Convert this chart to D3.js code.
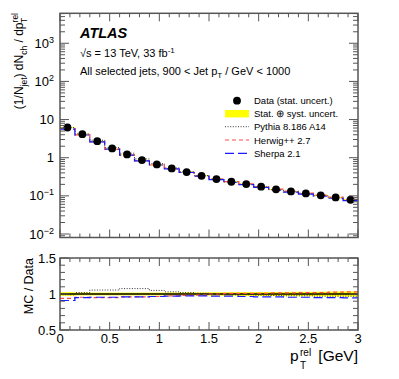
<!DOCTYPE html>
<html>
<head>
<meta charset="utf-8">
<script src="https://cdn.jsdelivr.net/npm/d3@7"></script>
<style>
  body { margin: 0; background: #fff; }
  svg text { font-family: "Liberation Sans", Arial, Helvetica, sans-serif; }
</style>
</head>
<body>
<svg id="chart"></svg>
<script>
const width = 399;
const height = 379;

// bin edges of p_T^rel [GeV]
const binEdges = [0, 0.15, 0.3, 0.45, 0.6, 0.75, 0.9, 1.05, 1.2, 1.35, 1.5,
                  1.65, 1.8, 1.95, 2.1, 2.25, 2.4, 2.55, 2.7, 2.85, 3.0];
const dataVals = [6.2, 4.15, 2.72, 1.75, 1.22, 0.865, 0.668, 0.525, 0.42, 0.336,
                  0.275, 0.234, 0.204, 0.174, 0.148, 0.131, 0.116, 0.103, 0.091, 0.079];
// relative stat+syst uncertainty
const uncRel = [0.025, 0.02, 0.02, 0.02, 0.02, 0.02, 0.02, 0.02, 0.022, 0.022,
                0.024, 0.025, 0.026, 0.027, 0.028, 0.03, 0.031, 0.032, 0.034, 0.036];
// MC / Data
const pythiaRatio = [0.99, 1.02, 1.055, 1.055, 1.075, 1.075, 1.05, 1.03, 1.02, 1.01,
                     1.0, 0.99, 0.99, 0.985, 0.98, 0.975, 0.975, 0.97, 0.97, 0.97];
const herwigRatio = [0.94, 0.955, 0.95, 0.95, 0.96, 0.96, 0.965, 0.975, 0.98, 0.985,
                     1.0, 1.01, 1.01, 1.01, 1.015, 1.015, 1.02, 1.02, 1.025, 1.03];
const sherpaRatio = [0.91, 0.95, 0.955, 0.955, 0.96, 0.96, 0.965, 0.97, 0.975, 0.975,
                     0.97, 0.97, 0.965, 0.96, 0.96, 0.955, 0.955, 0.95, 0.95, 0.945];

const xTicks = [0, 0.5, 1, 1.5, 2, 2.5, 3];
const xTickLabels = ["0", "0.5", "1", "1.5", "2", "2.5", "3"];
const yTicks = [1e-2, 1e-1, 1, 10, 1e2, 1e3];
const yTickBase = ["10", "10", "1", "10", "10", "10"];
const yTickExp = ["\u22122", "\u22121", "", "", "2", "3"];
const rTicks = [0.5, 1, 1.5];
const rTickLabels = ["0.5", "1", "1.5"];

const svg = d3.select('#chart').attr('width', width).attr('height', height);

const left = 60, right = 358;
const top1 = 13.3, bot1 = 237.5;
const top2 = 258, bot2 = 330;
const axisColor = '#555';

const x = d3.scaleLinear().domain([0, 3]).range([left, right]);
const y = d3.scaleLog().domain([0.0081, 6100]).range([bot1, top1]);
const yr = d3.scaleLinear().domain([0.5, 1.5]).range([bot2, top2]);

const bins = dataVals.map((v, i) => ({
  lo: binEdges[i], hi: binEdges[i + 1], c: (binEdges[i] + binEdges[i + 1]) / 2,
  v: v, u: uncRel[i], py: pythiaRatio[i], hw: herwigRatio[i], sh: sherpaRatio[i]
}));

function stepPoints(valFn) {
  const pts = [];
  bins.forEach(b => { pts.push([b.lo, valFn(b)]); pts.push([b.hi, valFn(b)]); });
  return pts;
}

const mcStyles = [
  { key: 'py', color: '#333', dash: '1,1.6', width: 1, label: 'Pythia 8.186 A14' },
  { key: 'hw', color: '#ff4a4a', dash: '4,3', width: 1.2, label: 'Herwig++ 2.7' },
  { key: 'sh', color: '#1a1aff', dash: '9,4', width: 1.2, label: 'Sherpa 2.1' }
];

// ---------- top panel ----------
const g1 = svg.append('g');

g1.selectAll('.band').data(bins).enter().append('rect')
  .attr('x', d => x(d.lo)).attr('width', d => x(d.hi) - x(d.lo))
  .attr('y', d => y(d.v * (1 + d.u))).attr('height', d => y(d.v * (1 - d.u)) - y(d.v * (1 + d.u)))
  .attr('fill', '#ffff00');

const line1 = d3.line().x(d => x(d[0])).y(d => y(d[1]));
mcStyles.forEach(s => {
  g1.append('path')
    .attr('d', line1(stepPoints(b => b.v * b[s.key])))
    .attr('fill', 'none').attr('stroke', s.color)
    .attr('stroke-width', s.width).attr('stroke-dasharray', s.dash);
});

g1.selectAll('.pt').data(bins).enter().append('circle')
  .attr('cx', d => x(d.c)).attr('cy', d => y(d.v)).attr('r', 3.9).attr('fill', '#000');

// ---------- ratio panel ----------
const g2 = svg.append('g');
g2.selectAll('.rband').data(bins).enter().append('rect')
  .attr('x', d => x(d.lo)).attr('width', d => x(d.hi) - x(d.lo))
  .attr('y', d => yr(1 + d.u)).attr('height', d => yr(1 - d.u) - yr(1 + d.u))
  .attr('fill', '#ffff00');

g2.append('line').attr('x1', x(0)).attr('x2', x(3)).attr('y1', yr(1)).attr('y2', yr(1))
  .attr('stroke', '#000').attr('stroke-width', 1.3);

const line2 = d3.line().x(d => x(d[0])).y(d => yr(d[1]));
mcStyles.forEach(s => {
  g2.append('path')
    .attr('d', line2(stepPoints(b => b[s.key])))
    .attr('fill', 'none').attr('stroke', s.color)
    .attr('stroke-width', s.width).attr('stroke-dasharray', s.dash);
});

// ---------- axes ----------
function frame(t, b) {
  svg.append('rect').attr('x', left).attr('y', t).attr('width', right - left).attr('height', b - t)
    .attr('fill', 'none').attr('stroke', axisColor).attr('stroke-width', 1.5);
}
frame(top1, bot1);
frame(top2, bot2);

const xMinor = d3.range(0, 31).map(i => i / 10);

function xTicksAt(yPos, dir) {
  // dir = -1 ticks upward, +1 downward
  xMinor.forEach(v => {
    const major = Math.abs(v * 2 - Math.round(v * 2)) < 1e-6;
    const len = major ? 8 : 4;
    svg.append('line').attr('x1', x(v)).attr('x2', x(v))
      .attr('y1', yPos).attr('y2', yPos + dir * len)
      .attr('stroke', axisColor).attr('stroke-width', 1);
  });
}
xTicksAt(bot1, -1); xTicksAt(top1, 1);
xTicksAt(bot2, -1); xTicksAt(top2, 1);

// log ticks
const logMinor = [];
for (let e = -3; e <= 3; e++) for (let m = 1; m <= 9; m++) {
  const v = m * Math.pow(10, e);
  if (v >= 0.0081 && v <= 6100) logMinor.push({ v: v, major: m === 1 });
}
logMinor.forEach(t => {
  const len = t.major ? 9 : 5;
  [[left, 1], [right, -1]].forEach(([xp, dir]) => {
    svg.append('line').attr('x1', xp).attr('x2', xp + dir * len)
      .attr('y1', y(t.v)).attr('y2', y(t.v)).attr('stroke', axisColor).attr('stroke-width', 1);
  });
});

// ratio y ticks
d3.range(5, 16).map(i => i / 10).forEach(v => {
  const major = Math.abs(v * 2 - Math.round(v * 2)) < 1e-6;
  const len = major ? 9 : 5;
  [[left, 1], [right, -1]].forEach(([xp, dir]) => {
    svg.append('line').attr('x1', xp).attr('x2', xp + dir * len)
      .attr('y1', yr(v)).attr('y2', yr(v)).attr('stroke', axisColor).attr('stroke-width', 1);
  });
});

// tick labels
const tickFont = 13;
yTicks.forEach((v, i) => {
  const t = svg.append('text').attr('x', 54).attr('y', y(v) + 4.5)
    .attr('text-anchor', 'end').attr('font-size', tickFont);
  t.append('tspan').text(yTickBase[i]);
  if (yTickExp[i]) t.append('tspan').attr('dy', -5).attr('font-size', 9).text(yTickExp[i]);
});
rTicks.forEach((v, i) => {
  svg.append('text').attr('x', 56).attr('y', yr(v) + 4.5)
    .attr('text-anchor', 'end').attr('font-size', tickFont).text(rTickLabels[i]);
});
xTicks.forEach((v, i) => {
  svg.append('text').attr('x', x(v)).attr('y', bot2 + 12.5)
    .attr('text-anchor', 'middle').attr('font-size', tickFont).text(xTickLabels[i]);
});

// axis title p_T^rel [GeV], pieces placed side by side
svg.append('text').attr('x', 290).attr('y', 361).attr('font-size', 15.5).text('p');
svg.append('text').attr('x', 300).attr('y', 356).attr('font-size', 10).text('rel');
svg.append('text').attr('x', 300).attr('y', 369).attr('font-size', 10).text('T');
svg.append('text').attr('x', right).attr('y', 361).attr('text-anchor', 'end')
  .attr('font-size', 15.5).text('[GeV]');

const yt = svg.append('text').attr('transform', 'translate(23,13) rotate(-90)')
  .attr('text-anchor', 'end').attr('font-size', 12);
yt.append('tspan').text('(1/N');
yt.append('tspan').attr('font-size', 8.5).attr('dy', 3.5).text('jet');
yt.append('tspan').attr('dy', -3.5).text(') dN');
yt.append('tspan').attr('font-size', 8.5).attr('dy', 3.5).text('ch');
yt.append('tspan').attr('dy', -3.5).text(' / dp');
yt.append('tspan').attr('font-size', 8.5).attr('dy', -5).text('rel');
yt.append('tspan').attr('font-size', 8.5).attr('dx', -10).attr('dy', 9).text('T');

svg.append('text').attr('transform', 'translate(33,258) rotate(-90)')
  .attr('text-anchor', 'end').attr('font-size', 12.5).text('MC / Data');

// ---------- labels ----------
svg.append('text').attr('x', 80).attr('y', 38).attr('font-size', 14.5)
  .attr('font-weight', 'bold').attr('font-style', 'italic').text('ATLAS');

const s1 = svg.append('text').attr('x', 80).attr('y', 57).attr('font-size', 11);
s1.append('tspan').text('\u221As = 13 TeV, 33 fb');
s1.append('tspan').attr('font-size', 8).attr('dy', -4.5).text('-1');

const s2 = svg.append('text').attr('x', 80).attr('y', 75).attr('font-size', 11);
s2.append('tspan').text('All selected jets, 900 < Jet p');
s2.append('tspan').attr('font-size', 8).attr('dy', 3).text('T');
s2.append('tspan').attr('dy', -3).text(' / GeV < 1000');

// ---------- legend ----------
const legX = 225, legW = 24, legTx = 254;
const legRows = [100.7, 113.7, 126.7, 140, 153.3];
const legText = ['Data (stat. uncert.)', 'Stat. \u2295 syst. uncert.'].concat(mcStyles.map(s => s.label));
svg.append('circle').attr('cx', legX + legW / 2).attr('cy', legRows[0]).attr('r', 3.9).attr('fill', '#000');
svg.append('rect').attr('x', legX).attr('y', legRows[1] - 3.7).attr('width', legW).attr('height', 7.4)
  .attr('fill', '#ffff00');
mcStyles.forEach((s, i) => {
  svg.append('line').attr('x1', legX).attr('x2', legX + legW)
    .attr('y1', legRows[i + 2]).attr('y2', legRows[i + 2])
    .attr('stroke', s.color).attr('stroke-width', s.width).attr('stroke-dasharray', s.dash);
});
legText.forEach((t, i) => {
  svg.append('text').attr('x', legTx).attr('y', legRows[i] + 3.5).attr('font-size', 9.5).text(t);
});
</script>
</body>
</html>
